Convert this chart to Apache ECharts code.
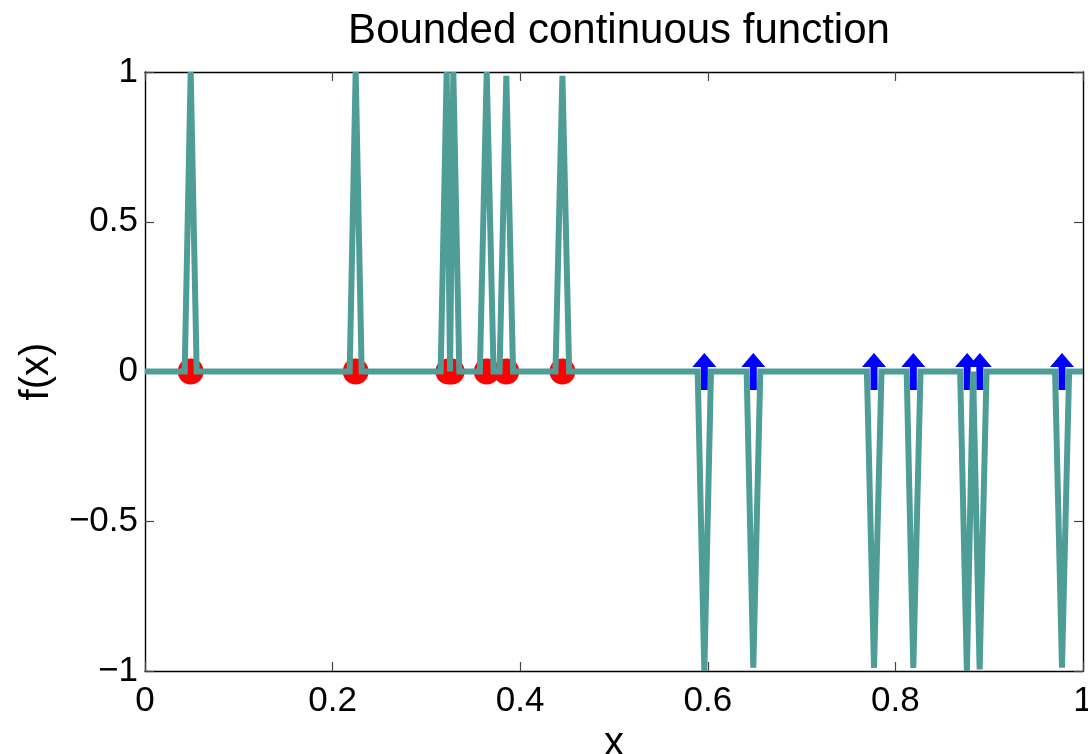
<!DOCTYPE html>
<html>
<head>
<meta charset="utf-8">
<script src="https://cdn.jsdelivr.net/npm/echarts@6/dist/echarts.min.js"></script>
<style>
  html, body { margin: 0; padding: 0; background: #fff; overflow: hidden; }
  #chart { width: 1088px; height: 754px; }
</style>
</head>
<body>
<div id="chart"></div>
<script>
// Polyline of f(x)
const lineX = [0,
  0.0423, 0.0487, 0.0551,
  0.2182, 0.2246, 0.2310,
  0.3152, 0.3216, 0.3252, 0.3287, 0.3351,
  0.3570, 0.3643, 0.3716,
  0.3780, 0.3852, 0.3924,
  0.4376, 0.4450, 0.4522,
  0.5892, 0.5963, 0.6034,
  0.6414, 0.6485, 0.6560,
  0.7696, 0.7772, 0.7852,
  0.8120, 0.8191, 0.8268,
  0.8690, 0.8762, 0.8828, 0.8898, 0.8972,
  0.9702, 0.9776, 0.9852,
  1];
const lineY = [0,
  0, 1, 0,
  0, 1, 0,
  0, 1, 0, 1, 0,
  0, 1, 0,
  0, 0.987, 0,
  0, 0.987, 0,
  0, -1, 0,
  0, -0.989, 0,
  0, -0.99, 0,
  0, -0.99, 0,
  0, -1, 0, -0.995, 0,
  0, -0.989, 0,
  0];
// Red circle markers (on y = 0)
const redX = [0.0487, 0.2246, 0.3234, 0.3270, 0.3643, 0.3852, 0.4450];
// Blue up-arrow markers (on y = 0)
const blueX = [0.5963, 0.6485, 0.7772, 0.8191, 0.8765, 0.8900, 0.9776];
// Axis ticks
const xTicks = [0, 0.2, 0.4, 0.6, 0.8, 1];
const yTicks = [-1, -0.5, 0, 0.5, 1];

const teal = '#4F9D97';
const fmt = v => String(v).replace('-', '\u2212');
const FONT = 'Liberation Sans, Arial, Helvetica, sans-serif';

const lineData = lineX.map((x, i) => [x, lineY[i]]);
const redData = redX.map(x => [x, 0]);
const blueData = blueX.map(x => [x, 0]);

const axisCommon = {
  axisLine: { show: true, onZero: false, lineStyle: { color: '#000', width: 1.4 } },
  axisTick: { show: true, inside: true, length: 9, lineStyle: { color: '#444', width: 1.2 } },
  splitLine: { show: false }
};

const chart = echarts.init(document.getElementById('chart'), null, { renderer: 'canvas' });
chart.setOption({
  animation: false,
  backgroundColor: '#fff',
  title: {
    text: 'Bounded continuous function',
    left: 614, top: 5, textAlign: 'center',
    textStyle: { fontFamily: FONT, fontSize: 42, fontWeight: 'normal', color: '#000' }
  },
  grid: { left: 145, right: 5, top: 72, bottom: 83, containLabel: false, outerBoundsMode: 'none' },
  xAxis: [
    Object.assign({
      type: 'value', position: 'bottom', min: xTicks[0], max: xTicks[xTicks.length - 1], interval: 0.2,
      name: 'x', nameLocation: 'middle', nameGap: 43,
      nameTextStyle: { fontFamily: FONT, fontSize: 40, color: '#000' },
      axisLabel: { show: true, margin: 13, fontFamily: FONT, fontSize: 35, color: '#000',
        showMinLabel: true, showMaxLabel: true, formatter: fmt }
    }, axisCommon),
    Object.assign({
      type: 'value', position: 'top', min: 0, max: 1, interval: 0.2,
      axisLabel: { show: false }
    }, axisCommon)
  ],
  yAxis: [
    Object.assign({
      type: 'value', position: 'left', min: yTicks[0], max: yTicks[yTicks.length - 1], interval: 0.5,
      name: 'f(x)', nameLocation: 'middle', nameGap: 88, nameRotate: 90,
      nameTextStyle: { fontFamily: FONT, fontSize: 40, color: '#000' },
      axisLabel: { show: true, margin: 7, fontFamily: FONT, fontSize: 35, color: '#000',
        showMinLabel: true, showMaxLabel: true, formatter: fmt }
    }, axisCommon),
    Object.assign({
      type: 'value', position: 'right', min: -1, max: 1, interval: 0.5,
      axisLabel: { show: false }
    }, axisCommon)
  ],
  series: [
    {
      type: 'scatter', xAxisIndex: 0, yAxisIndex: 0, z: 2,
      data: redData, symbol: 'circle', symbolSize: 26,
      itemStyle: { color: '#FF0000', opacity: 1 }, silent: true
    },
    {
      type: 'scatter', xAxisIndex: 0, yAxisIndex: 0, z: 2,
      data: blueData,
      symbol: 'path://M12,0 L24,14 L15.5,14 L15.5,37 L8.5,37 L8.5,14 L0,14 Z',
      symbolSize: [24, 37],
      itemStyle: { color: '#0000FF', opacity: 1 }, silent: true
    },
    {
      type: 'line', xAxisIndex: 0, yAxisIndex: 0, z: 3,
      data: lineData, showSymbol: false, symbol: 'none',
      lineStyle: { color: teal, width: 6, join: 'miter', cap: 'butt' },
      clip: true, silent: true
    }
  ]
});
</script>
</body>
</html>
